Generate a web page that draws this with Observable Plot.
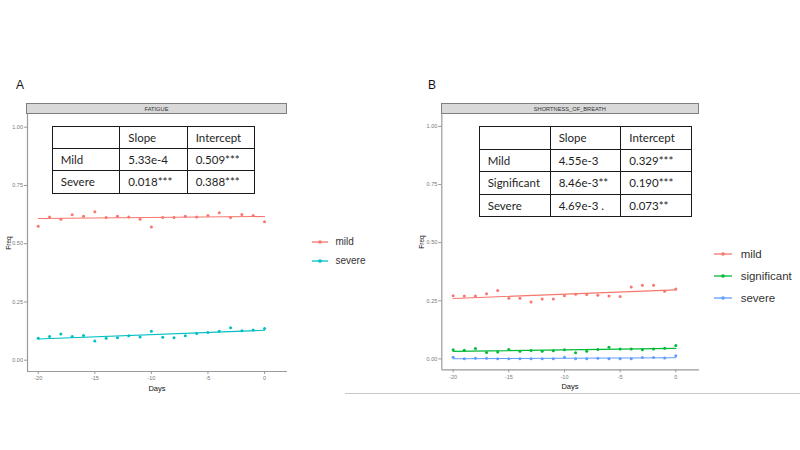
<!DOCTYPE html>
<html><head><meta charset="utf-8">
<script src="https://cdn.jsdelivr.net/npm/d3@7"></script>
<script src="https://cdn.jsdelivr.net/npm/@observablehq/plot@0.6"></script>
<style>
body{margin:0;background:#fff;}
#root{position:relative;width:800px;height:450px;overflow:hidden;background:#fff;font-family:"Liberation Sans",Arial,sans-serif;}
.abs{position:absolute;}
.strip{position:absolute;box-sizing:border-box;border:1px solid #7f7f7f;background:#d9d9d9;color:#333;font-size:5.7px;display:flex;align-items:center;justify-content:center;}
.tbl{position:absolute;border-collapse:collapse;table-layout:fixed;background:#fff;font-family:Lato,"Open Sans",sans-serif;font-size:11.5px;color:#1e1e1e;}
.tbl td{border:1.6px solid #1a1a1a;padding:0 0 0 8px;white-space:nowrap;overflow:hidden;}
.leg{position:absolute;display:flex;align-items:center;color:#333;}
.lbl{position:absolute;color:#111;white-space:nowrap;}
</style></head><body><div id="root"></div>
<script>
// ---------- data ----------
const days = [-20,-19,-18,-17,-16,-15,-14,-13,-12,-11,-10,-9,-8,-7,-6,-5,-4,-3,-2,-1,0];

const fatigueSeries = ["mild","severe"];
const fatigueColors = ["#F8766D","#00BFC4"];
const fatigueMild   = [0.575,0.615,0.605,0.624,0.618,0.637,0.612,0.618,0.615,0.605,0.572,0.612,0.612,0.618,0.615,0.621,0.633,0.612,0.625,0.621,0.594];
const fatigueSevere = [0.094,0.102,0.112,0.102,0.106,0.082,0.094,0.096,0.105,0.100,0.124,0.099,0.096,0.105,0.115,0.119,0.124,0.139,0.126,0.130,0.136];

const sobSeries = ["mild","significant","severe"];
const sobColors = ["#F8766D","#00BA38","#619CFF"];
const sobMild        = [0.272,0.270,0.270,0.280,0.294,0.261,0.261,0.245,0.258,0.258,0.272,0.278,0.277,0.274,0.271,0.268,0.309,0.317,0.317,0.291,0.301];
const sobSignificant = [0.039,0.037,0.045,0.027,0.030,0.040,0.033,0.036,0.033,0.035,0.039,0.026,0.033,0.040,0.050,0.043,0.043,0.039,0.042,0.046,0.058];
const sobSevere      = [0.007,0.001,0.003,0.003,0.000,0.000,0.001,0.000,0.000,0.000,0.007,0.000,0.001,0.003,0.001,0.001,0.000,0.006,0.006,0.004,0.013];

const xTicks = [-20,-15,-10,-5,0];
const yTicks = [0,0.25,0.5,0.75,1];

const tableHeader = ["","Slope","Intercept"];
const fatigueTable = [["Mild","5.33e-4","0.509***"],["Severe","0.018***","0.388***"]];
const sobTable = [["Mild","4.55e-3","0.329***"],["Significant","8.46e-3**","0.190***"],["Severe","4.69e-3 .","0.073**"]];

// ---------- helpers ----------
const root = document.getElementById("root");
function rows(series, arrays){
  const out = [];
  series.forEach((s,i)=> days.forEach((d,j)=> out.push({day:d, freq:arrays[i][j], series:s})));
  return out;
}
function panel(o){
  const svg = Plot.plot({
    width:o.width, height:o.height,
    marginLeft:o.ml, marginRight:o.mr, marginTop:o.mt, marginBottom:o.mb,
    style:{fontFamily:"Liberation Sans, Arial, sans-serif", fontSize:"5.5px", background:"none", overflow:"visible"},
    x:{domain:o.xd, label:null},
    y:{domain:o.yd, label:null},
    color:{domain:o.series, range:o.colors},
    marks:[
      Plot.ruleX([o.xd[0]], {stroke:"#9a9a9a", strokeWidth:1.2}),
      Plot.ruleY([o.yd[0]], {stroke:"#9a9a9a", strokeWidth:1.2}),
      Plot.axisX({ticks:xTicks, tickFormat:d=>String(d), tickSize:3, tickPadding:2, stroke:"#9a9a9a", fill:"#777", label:null}),
      Plot.axisY({ticks:yTicks, tickFormat:d3.format(".2f"), tickSize:3, tickPadding:1.5, stroke:"#9a9a9a", fill:"#777", label:null}),
      Plot.dot(o.data, {x:"day", y:"freq", fill:"series", r:1.5}),
      Plot.linearRegressionY(o.data, {x:"day", y:"freq", stroke:"series", ci:0, strokeWidth:1.1})
    ]
  });
  svg.style.position = "absolute";
  svg.style.left = o.left+"px";
  svg.style.top = o.top+"px";
  svg.style.maxWidth = "none";
  root.appendChild(svg);
}
function div(cls, css, text){
  const e = document.createElement("div");
  e.className = cls;
  Object.assign(e.style, css);
  if (text!=null) e.textContent = text;
  root.appendChild(e);
  return e;
}
function table(left, top, colW, rowH, body){
  const t = document.createElement("table");
  t.className = "tbl";
  Object.assign(t.style,{left:left+"px", top:top+"px", width:colW.reduce((a,b)=>a+b,0)+"px"});
  const cg = document.createElement("colgroup");
  colW.forEach(w=>{const c=document.createElement("col"); c.style.width=w+"px"; cg.appendChild(c);});
  t.appendChild(cg);
  [tableHeader, ...body].forEach(r=>{
    const tr = document.createElement("tr");
    tr.style.height = rowH+"px";
    r.forEach(v=>{const td=document.createElement("td"); td.textContent=v; tr.appendChild(td);});
    t.appendChild(tr);
  });
  root.appendChild(t);
}
function legend(x, y0, gap, series, colors, fs, keyW){
  series.forEach((s,i)=>{
    const e = div("leg", {left:x+"px", top:(y0+i*gap-8)+"px", height:"16px", fontSize:fs+"px"});
    const ns="http://www.w3.org/2000/svg";
    const sv=document.createElementNS(ns,"svg");
    sv.setAttribute("width",keyW); sv.setAttribute("height",16);
    sv.style.marginRight = (fs*0.75)+"px";
    const l=document.createElementNS(ns,"line");
    l.setAttribute("x1",0); l.setAttribute("x2",keyW); l.setAttribute("y1",8); l.setAttribute("y2",8);
    l.setAttribute("stroke",colors[i]); l.setAttribute("stroke-width",1.3);
    const c=document.createElementNS(ns,"circle");
    c.setAttribute("cx",keyW/2); c.setAttribute("cy",8); c.setAttribute("r",1.8); c.setAttribute("fill",colors[i]);
    sv.appendChild(l); sv.appendChild(c);
    e.appendChild(sv);
    e.appendChild(document.createTextNode(s));
  });
}

// ---------- panel A ----------
panel({data:rows(fatigueSeries,[fatigueMild,fatigueSevere]), series:fatigueSeries, colors:fatigueColors,
  left:0, top:95, width:300, height:300, ml:27, mr:13, mt:19, mb:24,
  xd:[-20.95,2.03], yd:[-0.0485,1.0545]});
div("strip",{left:"26px",top:"103px",width:"261px",height:"11px"},"FATIGUE");
div("lbl",{left:"16px",top:"78px",fontSize:"12px"},"A");
div("lbl",{left:"8px",top:"243px",fontSize:"6.5px",transform:"translate(-50%,-50%) rotate(-90deg)"},"Freq");
div("lbl",{left:"157px",top:"388px",fontSize:"7.5px",transform:"translate(-50%,-50%)"},"Days");
table(51.7,126,[67.6,67.4,67.3],22.2,fatigueTable);
legend(312,241.7,19,fatigueSeries,fatigueColors,10,16);

// ---------- panel B ----------
panel({data:rows(sobSeries,[sobMild,sobSignificant,sobSevere]), series:sobSeries, colors:sobColors,
  left:400, top:95, width:300, height:300, ml:41.3, mr:1, mt:19.3, mb:25.7,
  xd:[-21.02,2.13], yd:[-0.047,1.050]});
div("strip",{left:"440.7px",top:"103.3px",width:"258.3px",height:"11px"},"SHORTNESS_OF_BREATH");
div("lbl",{left:"428px",top:"78px",fontSize:"12px"},"B");
div("lbl",{left:"420.7px",top:"242px",fontSize:"6.5px",transform:"translate(-50%,-50%) rotate(-90deg)"},"Freq");
div("lbl",{left:"570px",top:"386px",fontSize:"7.5px",transform:"translate(-50%,-50%)"},"Days");
table(478.7,126,[71,70.6,71],22.5,sobTable);
legend(714,254.3,22,sobSeries,sobColors,11.5,18);

// bottom separator
div("abs",{left:"345px",top:"393px",width:"455px",height:"1px",background:"#c8c8c8"});
</script>
</body></html>
